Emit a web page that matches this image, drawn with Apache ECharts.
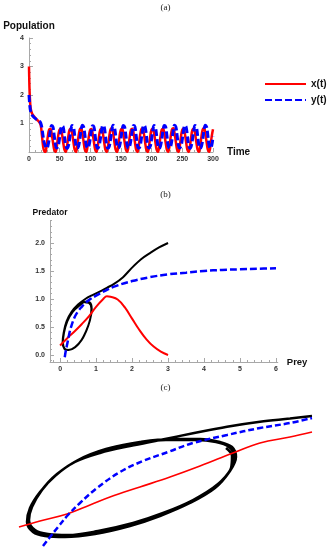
<!DOCTYPE html>
<html><head><meta charset="utf-8">
<script src="https://cdn.jsdelivr.net/npm/echarts@6/dist/echarts.min.js"></script>
<style>html,body{margin:0;padding:0;background:#fff}#c{width:331px;height:550px}</style>
</head><body><div id="c"></div>
<script>
// ---------- Panel (a): time series ----------
const timeA = [0, 1, 2, 3, 5, 8, 12, 16, 19, 21, 23, 24.5,
  26.5, 28.6, 30.7, 32.8, 34.9, 36.9, 39.0, 41.1,
  43.2, 45.3, 47.4, 49.5, 51.6, 53.6, 55.7, 57.8,
  59.9, 62.0, 64.1, 66.2, 68.3, 70.3, 72.4, 74.5,
  76.6, 78.7, 80.8, 82.9, 85.0, 87.0, 89.1, 91.2,
  93.3, 95.4, 97.5, 99.6, 101.7, 103.7, 105.8, 107.9,
  110.0, 112.1, 114.2, 116.3, 118.4, 120.4, 122.5, 124.6,
  126.7, 128.8, 130.9, 133.0, 135.1, 137.1, 139.2, 141.3,
  143.4, 145.5, 147.6, 149.7, 151.8, 153.8, 155.9, 158.0,
  160.1, 162.2, 164.3, 166.4, 168.5, 170.5, 172.6, 174.7,
  176.8, 178.9, 181.0, 183.1, 185.2, 187.2, 189.3, 191.4,
  193.5, 195.6, 197.7, 199.8, 201.9, 203.9, 206.0, 208.1,
  210.2, 212.3, 214.4, 216.5, 218.6, 220.6, 222.7, 224.8,
  226.9, 229.0, 231.1, 233.2, 235.3, 237.3, 239.4, 241.5,
  243.6, 245.7, 247.8, 249.9, 252.0, 254.0, 256.1, 258.2,
  260.3, 262.4, 264.5, 266.6, 268.7, 270.7, 272.8, 274.9,
  277.0, 279.1, 281.2, 283.3, 285.4, 287.4, 289.5, 291.6,
  293.7, 295.8, 297.9, 300.0];
const xValues = [3.0, 2.1, 1.7, 1.5, 1.35, 1.25, 1.15, 1.07, 0.95, 0.6, 0.2, 0.05,
  0.0, 0.2, 0.55, 0.78, 0.82, 0.66, 0.36, 0.08,
  0.0, 0.19, 0.54, 0.77, 0.81, 0.65, 0.35, 0.08,
  0.0, 0.2, 0.55, 0.78, 0.82, 0.66, 0.36, 0.08,
  0.0, 0.2, 0.56, 0.79, 0.83, 0.66, 0.35, 0.07,
  0.0, 0.19, 0.54, 0.77, 0.81, 0.65, 0.36, 0.08,
  0.0, 0.2, 0.55, 0.78, 0.82, 0.66, 0.36, 0.08,
  0.0, 0.2, 0.55, 0.79, 0.83, 0.67, 0.36, 0.08,
  0.0, 0.19, 0.54, 0.78, 0.82, 0.65, 0.35, 0.08,
  0.0, 0.2, 0.55, 0.78, 0.82, 0.66, 0.36, 0.08,
  0.0, 0.2, 0.56, 0.79, 0.83, 0.66, 0.35, 0.07,
  0.0, 0.19, 0.55, 0.78, 0.82, 0.66, 0.36, 0.08,
  0.0, 0.2, 0.55, 0.78, 0.82, 0.65, 0.35, 0.08,
  0.0, 0.2, 0.55, 0.79, 0.83, 0.66, 0.36, 0.08,
  0.0, 0.19, 0.54, 0.78, 0.82, 0.66, 0.36, 0.08,
  0.0, 0.2, 0.55, 0.78, 0.82, 0.66, 0.35, 0.08,
  0.0, 0.2, 0.55, 0.79, 0.83, 0.66, 0.36, 0.08,
  0.0, 0.2, 0.55, 0.8];
const yValues = [2.0, 1.7, 1.5, 1.4, 1.3, 1.22, 1.15, 1.1, 1.02, 0.85, 0.55, 0.35,
  0.22, 0.13, 0.2, 0.45, 0.76, 0.93, 0.88, 0.58,
  0.24, 0.14, 0.2, 0.44, 0.75, 0.92, 0.88, 0.57,
  0.23, 0.13, 0.21, 0.45, 0.76, 0.93, 0.89, 0.58,
  0.23, 0.13, 0.2, 0.45, 0.77, 0.94, 0.88, 0.58,
  0.24, 0.14, 0.2, 0.44, 0.75, 0.92, 0.88, 0.57,
  0.23, 0.13, 0.21, 0.45, 0.76, 0.93, 0.89, 0.58,
  0.23, 0.13, 0.2, 0.45, 0.77, 0.94, 0.88, 0.58,
  0.24, 0.14, 0.2, 0.44, 0.76, 0.93, 0.88, 0.57,
  0.23, 0.13, 0.21, 0.45, 0.76, 0.93, 0.89, 0.58,
  0.23, 0.13, 0.2, 0.45, 0.77, 0.94, 0.88, 0.58,
  0.24, 0.14, 0.2, 0.44, 0.76, 0.93, 0.88, 0.57,
  0.23, 0.13, 0.21, 0.45, 0.76, 0.93, 0.89, 0.58,
  0.23, 0.13, 0.2, 0.45, 0.77, 0.94, 0.88, 0.58,
  0.24, 0.14, 0.2, 0.44, 0.76, 0.93, 0.88, 0.57,
  0.23, 0.13, 0.21, 0.45, 0.76, 0.93, 0.89, 0.58,
  0.23, 0.13, 0.2, 0.45, 0.77, 0.94, 0.88, 0.58,
  0.22, 0.13, 0.22, 0.55];
const timeTicks = [0, 50, 100, 150, 200, 250, 300];
const popTicks = [1, 2, 3, 4];

// ---------- Panel (b): phase plane ----------
const trajPreyB = [3.0,2.75,2.5,2.25,2.0,1.75,1.5,1.3,1.1,0.9,0.7,0.5,0.32,0.18,0.1,0.07,0.12,0.22,0.4,0.58,0.72,0.83,0.88,0.82,0.7,0.55,0.35,0.2,0.11,0.08,0.13,0.24,0.42,0.6,0.74,0.84,0.87,0.8,0.68];
const trajPredB = [2.0,1.92,1.82,1.71,1.56,1.39,1.27,1.2,1.13,1.07,1.0,0.9,0.77,0.6,0.4,0.22,0.11,0.09,0.13,0.25,0.42,0.62,0.82,0.94,0.95,0.89,0.77,0.6,0.4,0.22,0.11,0.09,0.14,0.27,0.45,0.65,0.83,0.93,0.94];
const preyNullPreyB = [0,0.2,0.4,0.6,0.8,1.0,1.2,1.3,1.4,1.6,1.8,2.0,2.2,2.4,2.6,2.8,3.0];
const preyNullPredB = [0.17,0.3,0.42,0.55,0.69,0.86,1.0,1.05,1.04,0.99,0.85,0.65,0.45,0.28,0.15,0.06,0.0];
const predNullPreyB = [0.13,0.16,0.2,0.25,0.3,0.4,0.5,0.6,0.7,0.8,1.0,1.2,1.5,2.0,2.5,3.0,3.5,4.0,4.5,5.0,5.5,6.0];
const predNullPredB = [-0.04,0.08,0.2,0.36,0.49,0.67,0.78,0.86,0.93,0.98,1.06,1.13,1.22,1.32,1.39,1.44,1.47,1.5,1.52,1.53,1.54,1.55];
const preyTicks = [0, 1, 2, 3, 4, 5, 6];
const predTicks = [0, 0.5, 1, 1.5, 2];
const preyMinor = [-0.2,0,0.2,0.4,0.6,0.8,1,1.2,1.4,1.6,1.8,2,2.2,2.4,2.6,2.8,3,3.2,3.4,3.6,3.8,4,4.2,4.4,4.6,4.8,5,5.2,5.4,5.6,5.8,6];
const predMinor = [-0.1,0,0.1,0.2,0.3,0.4,0.5,0.6,0.7,0.8,0.9,1,1.1,1.2,1.3,1.4,1.5,1.6,1.7,1.8,1.9,2,2.1,2.2,2.3,2.4];

// ---------- Panel (c): zoom on the limit cycle ----------
const trajPreyC = [1.188,1.1,0.98,0.848,0.712,0.58,0.46,0.34,0.24,0.16,0.10,0.06,0.048,0.072,0.12,0.20,0.32,0.46,0.58,0.70,0.80,0.86,0.884,0.868,0.82,0.74,0.62,0.50,0.38,0.26,0.168,0.104,0.064,0.052,0.076,0.128,0.208,0.328,0.468,0.588,0.708,0.808,0.864,0.876,0.856,0.804,0.724,0.604,0.484,0.364,0.252,0.164,0.108,0.068,0.056,0.08,0.132,0.212,0.332,0.472,0.592,0.712,0.812,0.864,0.868,0.844];
const trajPredC = [1.34,1.315,1.283,1.233,1.167,1.10,1.04,0.97,0.88,0.74,0.58,0.42,0.28,0.18,0.14,0.13,0.16,0.24,0.34,0.47,0.62,0.79,0.93,1.03,1.08,1.11,1.11,1.08,1.02,0.91,0.76,0.59,0.42,0.29,0.19,0.15,0.14,0.18,0.26,0.36,0.49,0.65,0.81,0.94,1.03,1.08,1.10,1.10,1.07,1.01,0.90,0.75,0.60,0.43,0.30,0.20,0.16,0.15,0.19,0.27,0.37,0.50,0.66,0.82,0.94,1.02];
const preyNullPreyC = [0.016,0.1,0.208,0.3,0.38,0.5,0.62,0.74,0.872,0.98,1.1,1.188];
const preyNullPredC = [0.23,0.29,0.36,0.45,0.53,0.63,0.73,0.84,0.97,1.07,1.13,1.18];
const predNullPreyC = [0.112,0.14,0.172,0.212,0.26,0.328,0.42,0.512,0.612,0.712,0.848,0.98,1.1,1.188];
const predNullPredC = [0.04,0.13,0.23,0.35,0.47,0.62,0.78,0.89,0.98,1.07,1.15,1.22,1.27,1.32];

const zip = (a, b) => a.map((v, i) => [v, b[i]]);
const FONT = 'Liberation Sans';
const axisGrey = '#a8a8a8';
const tickLabel = {fontFamily: FONT, fontWeight: 'bold', fontSize: 7, color: '#333'};
const nameStyle = (s) => ({fontFamily: FONT, fontWeight: 'bold', fontSize: s, color: '#111'});
const titleStyle = {fontFamily: 'Liberation Serif', fontSize: 9, fontWeight: 'normal', color: '#222'};

const chart = echarts.init(document.getElementById('c'), null, {renderer: 'canvas'});
chart.setOption({
  animation: false,
  backgroundColor: '#fff',
  title: [
    {text: '(a)', left: 'center', top: 3, padding: 0, textStyle: titleStyle},
    {text: '(b)', left: 'center', top: 190, padding: 0, textStyle: titleStyle},
    {text: '(c)', left: 'center', top: 383, padding: 0, textStyle: titleStyle}
  ],
  legend: {
    data: ['x(t)', 'y(t)'], orient: 'vertical', left: 264, top: 79, padding: 0,
    itemWidth: 41, itemHeight: 10, itemGap: 6, selectedMode: false,
    itemStyle: {opacity: 0},
    textStyle: nameStyle(10)
  },
  grid: [
    {left: 29, top: 38, width: 184, height: 114},
    {left: 50, top: 220.6, width: 227.8, height: 141.4},
    {left: 15, top: 405, width: 300, height: 145}
  ],
  xAxis: [
    {gridIndex: 0, type: 'value', position: 'bottom', min: 0, max: 300, interval: 50,
     name: 'Time', nameLocation: 'end', nameGap: 14, nameTextStyle: nameStyle(10),
     axisLine: {onZero: false, lineStyle: {color: axisGrey}},
     axisTick: {inside: true, length: 4, lineStyle: {color: axisGrey}},
     minorTick: {show: true, splitNumber: 5, length: 2, lineStyle: {color: axisGrey}},
     splitLine: {show: false},
     axisLabel: Object.assign({margin: 4, customValues: timeTicks}, tickLabel)},
    {gridIndex: 1, type: 'value', position: 'bottom', min: -0.28, max: 6.05,
     name: 'Prey', nameLocation: 'end', nameGap: 9, nameTextStyle: nameStyle(9.5),
     axisLine: {onZero: false, lineStyle: {color: axisGrey}},
     axisTick: {inside: true, length: 4, customValues: preyTicks, lineStyle: {color: axisGrey}},
     splitLine: {show: false},
     axisLabel: Object.assign({margin: 4, customValues: preyTicks}, tickLabel)},
    {gridIndex: 1, type: 'value', position: 'bottom', offset: 0, min: -0.28, max: 6.05,
     axisLine: {show: false, onZero: false},
     axisTick: {inside: true, length: 2, customValues: preyMinor, lineStyle: {color: axisGrey}},
     splitLine: {show: false}, axisLabel: {show: false}},
    {gridIndex: 2, type: 'value', min: 0, max: 1.2, show: false}
  ],
  yAxis: [
    {gridIndex: 0, type: 'value', position: 'left', min: 0, max: 4, interval: 1,
     name: 'Population', nameLocation: 'end', nameGap: 7, nameTextStyle: nameStyle(10),
     axisLine: {show: true, onZero: false, lineStyle: {color: axisGrey}},
     axisTick: {show: true, inside: true, length: 4, lineStyle: {color: axisGrey}},
     minorTick: {show: true, splitNumber: 5, length: 2, lineStyle: {color: axisGrey}},
     splitLine: {show: false},
     axisLabel: Object.assign({margin: 5, customValues: popTicks}, tickLabel)},
    {gridIndex: 1, type: 'value', position: 'left', min: -0.125, max: 2.4,
     name: 'Predator', nameLocation: 'end', nameGap: 3, nameTextStyle: nameStyle(8.5),
     axisLine: {show: true, onZero: false, lineStyle: {color: axisGrey}},
     axisTick: {show: true, inside: true, length: 4, customValues: predTicks, lineStyle: {color: axisGrey}},
     splitLine: {show: false},
     axisLabel: Object.assign({margin: 5, customValues: predTicks, formatter: v => Number(v).toFixed(1)}, tickLabel)},
    {gridIndex: 1, type: 'value', position: 'left', offset: 0, min: -0.125, max: 2.4,
     axisLine: {show: false, onZero: false},
     axisTick: {show: true, inside: true, length: 2, customValues: predMinor, lineStyle: {color: axisGrey}},
     splitLine: {show: false}, axisLabel: {show: false}},
    {gridIndex: 2, type: 'value', min: 0, max: 1.45, show: false}
  ],
  series: [
    {name: 'x(t)', type: 'line', xAxisIndex: 0, yAxisIndex: 0, data: zip(timeA, xValues),
     smooth: 0.4, symbol: 'none', itemStyle: {color: '#ff0000'}, lineStyle: {color: '#ff0000', width: 2.5}},
    {name: 'y(t)', type: 'line', xAxisIndex: 0, yAxisIndex: 0, data: zip(timeA, yValues),
     smooth: 0.4, symbol: 'none', itemStyle: {color: '#0000ff'}, lineStyle: {color: '#0000ff', width: 3, type: [7, 3]}},

    {name: 'trajB', type: 'line', xAxisIndex: 1, yAxisIndex: 1, data: zip(trajPreyB, trajPredB),
     smooth: 0.35, symbol: 'none', lineStyle: {color: '#000', width: 2}},
    {name: 'preyNullB', type: 'line', xAxisIndex: 1, yAxisIndex: 1, data: zip(preyNullPreyB, preyNullPredB),
     smooth: 0.4, symbol: 'none', lineStyle: {color: '#ff0000', width: 2}},
    {name: 'predNullB', type: 'line', xAxisIndex: 1, yAxisIndex: 1, data: zip(predNullPreyB, predNullPredB),
     smooth: 0.4, symbol: 'none', lineStyle: {color: '#0000ff', width: 2.5, type: [7, 3]}},

    {name: 'trajC', type: 'line', xAxisIndex: 3, yAxisIndex: 3, data: zip(trajPreyC, trajPredC),
     smooth: 0.35, symbol: 'none', lineStyle: {color: '#000', width: 2.5}},
    {name: 'preyNullC', type: 'line', xAxisIndex: 3, yAxisIndex: 3, data: zip(preyNullPreyC, preyNullPredC),
     smooth: 0.4, symbol: 'none', lineStyle: {color: '#ff0000', width: 1.6}},
    {name: 'predNullC', type: 'line', xAxisIndex: 3, yAxisIndex: 3, data: zip(predNullPreyC, predNullPredC),
     smooth: 0.4, symbol: 'none', lineStyle: {color: '#0000ff', width: 2.5, type: [6, 3]}}
  ]
});
</script></body></html>
